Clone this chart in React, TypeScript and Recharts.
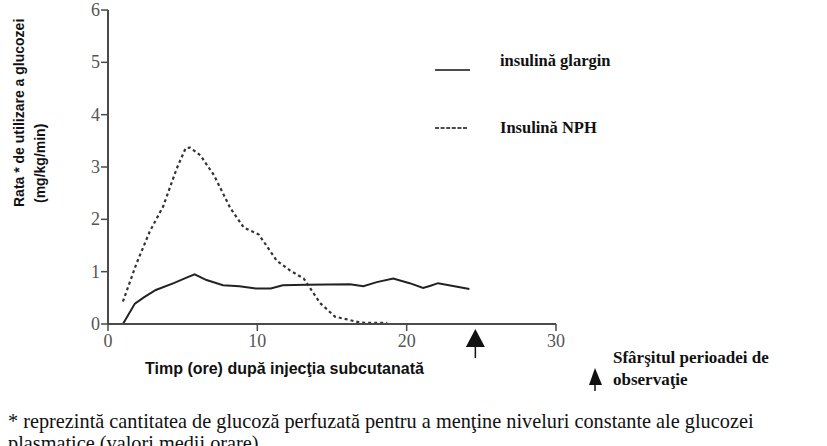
import React from 'react';
import { LineChart, Line, XAxis, YAxis, ReferenceDot } from 'recharts';

// hours after injection / glucose utilisation rate (mg/kg/min)
const glarginHours = [1, 1.8, 2.4, 3.2, 4.4, 5.3, 5.8, 6.6, 7.7, 8.8, 9.9, 10.9, 11.7, 13.3, 16.2, 17.1, 18, 19.1, 20.2, 21.1, 21.6, 22.1, 23.2, 24.2];
const glarginRate = [0, 0.39, 0.51, 0.65, 0.78, 0.89, 0.95, 0.84, 0.74, 0.72, 0.68, 0.68, 0.74, 0.75, 0.76, 0.72, 0.8, 0.87, 0.78, 0.69, 0.73, 0.78, 0.72, 0.67];

const nphHours = [1, 1.9, 2.8, 3.7, 4.6, 5.2, 5.5, 6.2, 7.1, 8.2, 9.1, 10.1, 11.3, 12.2, 13.1, 14.2, 15.2, 16.2, 16.9, 18.7];
const nphRate = [0.43, 1.15, 1.77, 2.25, 2.97, 3.36, 3.37, 3.22, 2.84, 2.21, 1.84, 1.71, 1.21, 1.02, 0.87, 0.4, 0.14, 0.075, 0.025, 0.02];

const xTicks = [0, 10, 20, 30];
const yTicks = [0, 1, 2, 3, 4, 5, 6];
const endOfObservation = 24.6;

const glargin = glarginHours.map((t, i) => ({ t, v: glarginRate[i] }));
const nph = nphHours.map((t, i) => ({ t, v: nphRate[i] }));

const serif = '"Liberation Serif", "Times New Roman", serif';
const sans = '"Liberation Sans", Arial, sans-serif';
const axisGray = '#4a4a4a';

const XTick = ({ x, y, payload }: any) => (
  <text x={x} y={y} dy={14} textAnchor="middle" style={{ fontFamily: serif, fontSize: 18 }} fill="#555">
    {payload.value}
  </text>
);

const YTick = ({ x, y, payload }: any) => (
  <text x={x} y={y} dy={6} textAnchor="end" style={{ fontFamily: serif, fontSize: 18 }} fill="#555">
    {payload.value}
  </text>
);

const ArrowMark = ({ cx, cy }: any) => (
  <g>
    <polygon points={`${cx},${cy + 5} ${cx - 9.5},${cy + 23} ${cx + 9.5},${cy + 23}`} fill="#111" />
    <line x1={cx} x2={cx} y1={cy + 20} y2={cy + 34} stroke="#111" strokeWidth={1.5} />
  </g>
);

export default function App() {
  return (
    <div style={{ position: 'absolute', left: 0, top: 0, width: 827, height: 446, background: '#fff', overflow: 'hidden' }}>
      <LineChart width={827} height={446} margin={{ top: 10, right: 271, bottom: 92, left: 0 }}>
        <XAxis type="number" dataKey="t" domain={[0, 30]} ticks={xTicks} height={30} tickSize={7} tickMargin={2}
          axisLine={{ stroke: axisGray, strokeWidth: 2 }} tickLine={{ stroke: axisGray, strokeWidth: 1.5 }}
          tick={XTick} allowDataOverflow />
        <YAxis type="number" domain={[0, 6]} ticks={yTicks} width={108} tickSize={7} tickMargin={1}
          axisLine={{ stroke: axisGray, strokeWidth: 2 }} tickLine={{ stroke: axisGray, strokeWidth: 1.5 }}
          tick={YTick} />
        <Line data={glargin} dataKey="v" name="insulină glargin" type="linear" stroke="#222" strokeWidth={2}
          dot={false} isAnimationActive={false} />
        <Line data={nph} dataKey="v" name="Insulină NPH" type="linear" stroke="#333" strokeWidth={2.2}
          strokeDasharray="3 3" dot={false} isAnimationActive={false} />
        <ReferenceDot x={endOfObservation} y={0} r={0} ifOverflow="visible" shape={ArrowMark} />
      </LineChart>

      <svg width={827} height={446} style={{ position: 'absolute', left: 0, top: 0, pointerEvents: 'none' }}>
        {/* series key */}
        <line x1={435} x2={470} y1={70} y2={70} stroke="#111" strokeWidth={1.4} />
        <text x={500} y={66} fontFamily={serif} fontWeight="bold" fontSize={16.5} fill="#111">insulină glargin</text>
        <line x1={435} x2={468} y1={128} y2={128} stroke="#111" strokeWidth={1.6} strokeDasharray="4 1.6" />
        <text x={500} y={133} fontFamily={serif} fontWeight="bold" fontSize={16.5} fill="#111">Insulină NPH</text>

        {/* axis titles */}
        <text transform="translate(24,207) rotate(-90)" textAnchor="start" fontFamily={sans} fontWeight="bold" fontSize={14} fill="#111">
          Rata * de utilizare a glucozei
        </text>
        <text transform="translate(45,203) rotate(-90)" textAnchor="start" fontFamily={sans} fontWeight="bold" fontSize={14} fill="#111">
          (mg/kg/min)
        </text>
        <text x={145} y={374} fontFamily={sans} fontWeight="bold" fontSize={16} fill="#111">
          Timp (ore) după injecţia subcutanată
        </text>

        {/* key for the end-of-observation arrow */}
        <polygon points="595,368 589,385 602,385" fill="#111" />
        <line x1={595} x2={595} y1={383} y2={391} stroke="#111" strokeWidth={1.5} />
        <text x={613} y={363} fontFamily={serif} fontWeight="bold" fontSize={17} fill="#111">Sfârşitul perioadei de</text>
        <text x={613} y={385} fontFamily={serif} fontWeight="bold" fontSize={17} fill="#111">observaţie</text>

        {/* footnote */}
        <text x={8} y={428} fontFamily={serif} fontSize={20.3} fill="#111">
          * reprezintă cantitatea de glucoză perfuzată pentru a menţine niveluri constante ale glucozei
        </text>
        <text x={8} y={450} fontFamily={serif} fontSize={20.3} fill="#111">
          plasmatice (valori medii orare)
        </text>
      </svg>
    </div>
  );
}
